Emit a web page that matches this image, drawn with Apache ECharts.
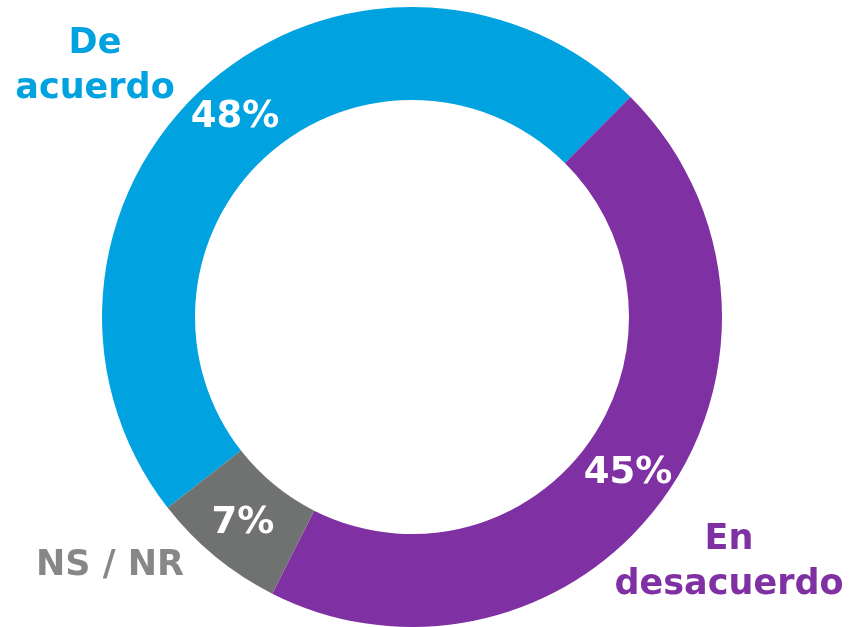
<!DOCTYPE html>
<html>
<head>
<meta charset="utf-8">
<script src="https://cdn.jsdelivr.net/npm/echarts@6/dist/echarts.min.js"></script>
<style>html,body{margin:0;padding:0;background:#fff}#c{width:849px;height:627px}</style>
</head>
<body>
<div id="c"></div>
<script>
var categories = ['De acuerdo', 'En desacuerdo', 'NS / NR'];
var values = [48, 45, 7];
var colors = ['#00A3E0', '#7F30A3', '#707271'];
var nameColors = ['#00A3E0', '#7F30A3', '#878787'];
var nameLines = [['De', 'acuerdo'], ['En', 'desacuerdo'], ['NS / NR']];
var namePos = [[95, 66], [729, 562], [110, 566]];

var chart = echarts.init(document.getElementById('c'));
var font = 'DejaVu Sans';
chart.setOption({
  animation: false,
  series: [{
    type: 'pie',
    center: [412, 317],
    radius: [217, 310],
    startAngle: 218,
    clockwise: true,
    avoidLabelOverlap: false,
    labelLine: { show: false },
    label: {
      show: true,
      position: 'inside',
      formatter: function (p) { return p.value + '%'; },
      color: '#fff',
      fontFamily: font,
      fontWeight: 'bold',
      fontSize: 37
    },
    itemStyle: { borderWidth: 0 },
    emphasis: { disabled: true },
    data: categories.map(function (c, i) {
      return { name: c, value: values[i], itemStyle: { color: colors[i] } };
    })
  }],
  graphic: categories.map(function (c, i) {
    return {
      type: 'text',
      x: namePos[i][0],
      y: namePos[i][1],
      style: {
        text: nameLines[i].join('\n'),
        fill: nameColors[i],
        font: 'bold 35px "' + font + '"',
        lineHeight: 45,
        align: 'center',
        verticalAlign: 'middle'
      }
    };
  })
});
</script>
</body>
</html>
